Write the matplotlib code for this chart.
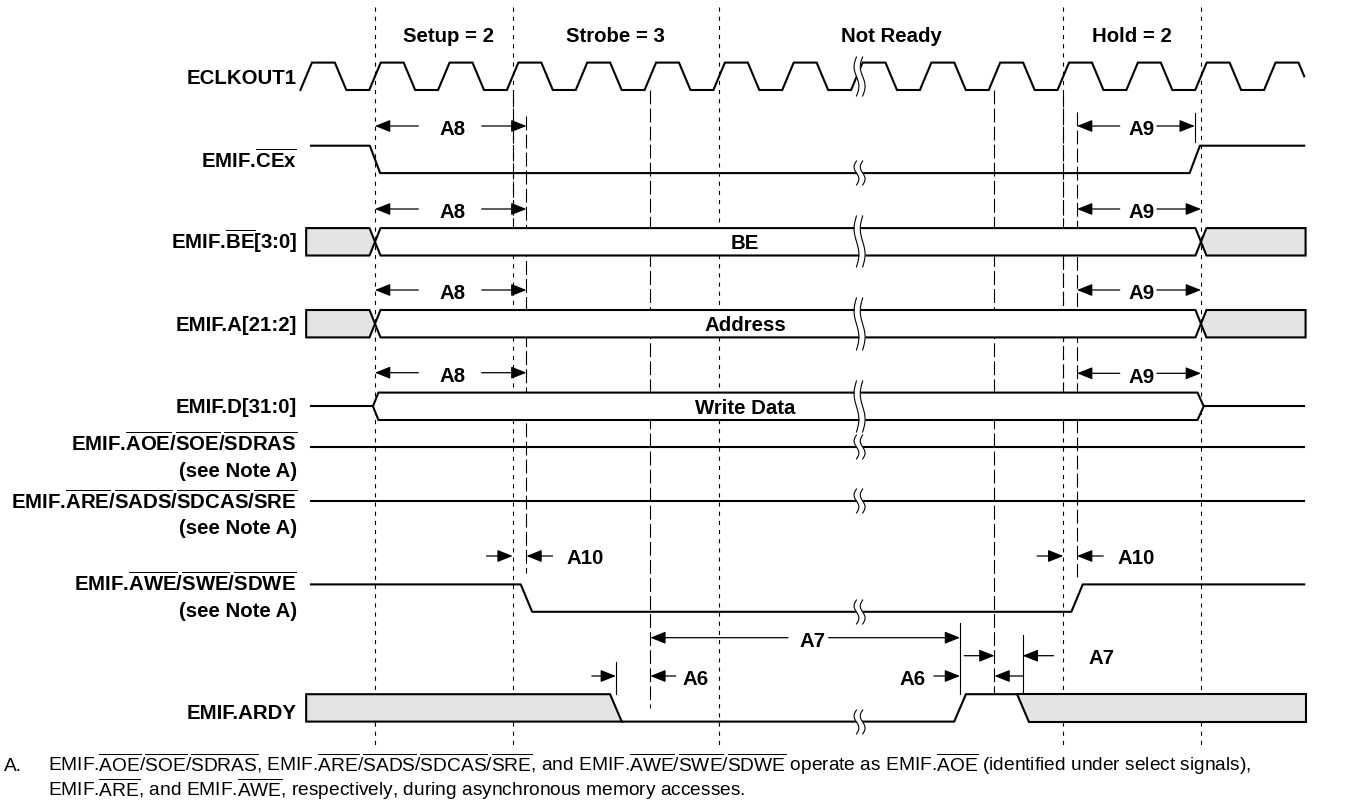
import numpy as np
import matplotlib.pyplot as plt

plt.rcParams['font.family'] = ['Liberation Sans', 'DejaVu Sans']
plt.rcParams['mathtext.fontset'] = 'custom'
plt.rcParams['mathtext.rm'] = 'Liberation Sans'
plt.rcParams['mathtext.bf'] = 'Liberation Sans:bold'
plt.rcParams['lines.scale_dashes'] = False

# ---- timing data, in ECLKOUT1 cycles (0 = start of setup) ----
phase_names = ['Setup = 2', 'Strobe = 3', 'Not Ready', 'Hold = 2']
phase_edges = [0, 2, 5, 10, 12]
clk_cycles = np.arange(-1, 14)
clk_stop = 13.5
t_break = 7.04

ce_edges = [0.0, 11.91]          # CEx low / high
bus_edges = [0.0, 12.0]          # BE, A, D valid
awe_edges = [2.2, 10.2]          # AWE low / high
ardy_edges = [3.5, 8.5, 9.41]    # ARDY low, high, released
bus_text = ['BE', 'Address', 'Write Data']
bus_text_t = 5.38

signal_names = ['ECLKOUT1',
                r'EMIF.$\mathbf{\overline{CEx}}$',
                r'EMIF.$\mathbf{\overline{BE}}$[3:0]',
                'EMIF.A[21:2]',
                'EMIF.D[31:0]',
                r'EMIF.$\mathbf{\overline{AOE}}$/$\mathbf{\overline{SOE}}$/$\mathbf{\overline{SDRAS}}$',
                r'EMIF.$\mathbf{\overline{ARE}}$/$\mathbf{\overline{SADS}}$/$\mathbf{\overline{SDCAS}}$/$\mathbf{\overline{SRE}}$',
                r'EMIF.$\mathbf{\overline{AWE}}$/$\mathbf{\overline{SWE}}$/$\mathbf{\overline{SDWE}}$',
                'EMIF.ARDY']
note_text = '(see Note A)'

# timing parameters (name, from, to)
a8 = ('A8', 0.0, 2.2)
a9_ce = ('A9', 10.2, 11.91)
a9 = ('A9', 10.2, 12.0)
a10 = [('A10', 2.0, 2.2), ('A10', 10.0, 10.2)]
a7 = [('A7', 4.0, 8.5), ('A7', 9.0, 9.41)]
a6 = [('A6', 3.5, 4.0), ('A6', 8.5, 9.0)]

footnote = [r'EMIF.$\overline{\mathrm{AOE}}$/$\overline{\mathrm{SOE}}$/$\overline{\mathrm{SDRAS}}$, '
            r'EMIF.$\overline{\mathrm{ARE}}$/$\overline{\mathrm{SADS}}$/$\overline{\mathrm{SDCAS}}$/$\overline{\mathrm{SRE}}$, '
            r'and EMIF.$\overline{\mathrm{AWE}}$/$\overline{\mathrm{SWE}}$/$\overline{\mathrm{SDWE}}$ operate as '
            r'EMIF.$\overline{\mathrm{AOE}}$ (identified under select signals),',
            r'EMIF.$\overline{\mathrm{ARE}}$, and EMIF.$\overline{\mathrm{AWE}}$, respectively, during asynchronous memory accesses.']

# ---- layout (pixels) ----
W, H = 1348, 808
X0, P = 375.0, 68.83            # pixel of cycle 0, pixels per cycle
row_y = [76.3, 159.4, 241.8, 323.7, 406.3, 447.3, 501.0, 598.1, 707.9]
label_y = [76.3, 160, 242, 324, 406, 443, 501, 583.5, 711.5]
note_y = [469.5, 527, 609.5]
HH = 13.7                       # half height of a signal
LW = 1.5
FS = 14.7
GRAY = '#e3e3e3'


def px(x):
    return (x - X0) / P


fig = plt.figure(figsize=(W / 100, H / 100), dpi=100)
ax = fig.add_axes([0, 0, 1, 1])
ax.set_xlim(px(0), px(W))
ax.set_ylim(H, 0)
ax.axis('off')


def label(t, y, s, ha='right', size=FS, weight='bold'):
    ax.text(t, y + 0.36 * size / 0.72, s, ha=ha, va='baseline', fontsize=size,
            fontweight=weight, color='black')


def arrow(t_tail, t_tip, y):
    ax.annotate('', xy=(t_tip, y), xytext=(t_tail, y),
                arrowprops=dict(arrowstyle='-|>,head_length=0.55,head_width=0.22',
                                mutation_scale=17, lw=0.9, color='black',
                                fc='black', shrinkA=0, shrinkB=0))


def inside(dim, y, t_text, gl, gr):
    name, t0, t1 = dim
    arrow(t_text - gl, t0, y)
    arrow(t_text + gr, t1, y)
    label(t_text, y + 2, name, ha='center')


def vline(t, y0, y1, kind):
    dash = {'short': (3, 3.6), 'long': (10, 3)}.get(kind)
    if dash is None:
        ax.plot([t, t], [y0, y1], color='black', lw=0.8, zorder=1)
    else:
        ax.plot([t, t], [y0, y1], color='black', lw=0.8, dashes=dash, zorder=1)


def squiggle(y0, y1):
    yy = np.linspace(y0, y1, 60)
    wob = 0.035 * np.sin(2 * np.pi * (yy - y0) / (y1 - y0))
    left = t_break - 0.045 - wob
    right = t_break + 0.045 - wob
    ax.fill_betweenx(yy, left, right, color='white', zorder=5, lw=0)
    ax.plot(left, yy, color='black', lw=0.8, zorder=6)
    ax.plot(right, yy, color='black', lw=0.8, zorder=6)


def poly(pts, fc):
    ax.add_patch(plt.Polygon(pts, closed=True, fc=fc, ec='black', lw=LW,
                             joinstyle='miter', zorder=3))


# ---- vertical reference lines ----
for t in phase_edges:
    vline(t, 7, 745, 'short')
for t, y0, y1 in [(2.0, 93, 227), (2.2, 116, 573), (4.0, 90, 708),
                  (9.0, 90, 693), (10.0, 93, 430), (10.2, 112, 577)]:
    vline(t, y0, y1, 'long')
for t, y0, y1 in [(ce_edges[1], 113, 142), (ardy_edges[0], 662, 694),
                  (ardy_edges[1], 623, 694), (ardy_edges[2], 635, 694)]:
    vline(t, y0, y1, 'solid')

# ---- phase headers ----
for name, a, b in zip(phase_names, phase_edges[:-1], phase_edges[1:]):
    label((a + b) / 2 + (0.07 if a == 0 else 0), 35, name, ha='center')

# ---- clock ----
r = 0.167
yc = row_y[0]
ct, cy = [], []
for k in clk_cycles:
    ct += [k - r / 2, k + r / 2, k + 0.5 - r / 2, k + 0.5 + r / 2]
    cy += [yc + HH, yc - HH, yc - HH, yc + HH]
ct, cy = np.array(ct), np.array(cy)
keep = ct <= clk_stop - r / 2 + 1e-9
ct = np.append(ct[keep], clk_stop)
cy = np.append(cy[keep], yc)
ax.plot(ct, cy, color='black', lw=LW, zorder=2, solid_joinstyle='miter')

# ---- CEx ----
w = 0.075
y = row_y[1]
ax.plot([-0.93, ce_edges[0] - w, ce_edges[0] + w, ce_edges[1] - w, ce_edges[1] + w, clk_stop],
        [y - HH, y - HH, y + HH, y + HH, y - HH, y - HH], color='black', lw=LW, zorder=2)

# ---- BE and A buses ----
w = 0.08
t0, t1 = bus_edges
for i in (2, 3):
    y = row_y[i]
    top, bot = y - HH, y + HH
    poly([(-1.0, top), (t0 - w, top), (t0, y), (t0 - w, bot), (-1.0, bot)], GRAY)
    poly([(t0, y), (t0 + w, top), (t1 - w, top), (t1, y), (t1 - w, bot), (t0 + w, bot)], 'white')
    poly([(t1, y), (t1 + w, top), (13.52, top), (13.52, bot), (t1 + w, bot)], GRAY)

# ---- D bus ----
y = row_y[4]
top, bot = y - HH, y + HH
ax.plot([-0.93, t0 - 0.03], [y, y], color='black', lw=LW, zorder=2)
poly([(t0 - 0.03, y), (t0 + 0.05, top), (t1 - 0.05, top), (t1 + 0.04, y),
      (t1 - 0.05, bot), (t0 + 0.05, bot)], 'white')
ax.plot([t1 + 0.04, clk_stop], [y, y], color='black', lw=LW, zorder=2)

for i, s in zip((2, 3, 4), bus_text):
    label(bus_text_t, row_y[i], s, ha='center')

# ---- AOE, ARE (inactive) ----
for i in (5, 6):
    ax.plot([-0.93, clk_stop], [row_y[i], row_y[i]], color='black', lw=LW, zorder=2)

# ---- AWE ----
w = 0.083
y = row_y[7]
ax.plot([-0.93, awe_edges[0] - w, awe_edges[0] + w, awe_edges[1] - w, awe_edges[1] + w, clk_stop],
        [y - HH, y - HH, y + HH, y + HH, y - HH, y - HH], color='black', lw=LW, zorder=2)

# ---- ARDY ----
w = 0.085
y = row_y[8]
top, bot = y - HH, y + HH
f0, rr, f1 = ardy_edges
poly([(-1.0, top), (f0 - w, top), (f0 + w, bot), (-1.0, bot)], GRAY)
ax.plot([f0 + w, rr - w, rr + w, f1 - w], [bot, bot, top, top], color='black', lw=LW, zorder=2)
poly([(f1 - w, top), (13.52, top), (13.52, bot), (f1 + w, bot)], GRAY)

# ---- time breaks ----
for y0, y1 in [(57, 96), (161, 185), (216, 267), (298, 350), (381, 432),
               (435, 459), (489, 513), (600, 624), (710, 734)]:
    squiggle(y0, y1)

# ---- timing parameters ----
for y in (126, 209, 290, 372.7):
    inside(a8, y, 1.13, 0.5, 0.42)
inside(a9_ce, 126, 11.13, 0.31, 0.23)
for y in (209, 290, 373.3):
    inside(a9, y, 11.13, 0.31, 0.23)

for name, ta, tb in a10:
    arrow(ta - 0.38, ta, 556)
    arrow(tb + 0.38, tb, 556)
    label(tb + 0.58, 557, name, ha='left')

inside(a7[0], 637.7, 6.35, 0.35, 0.24)
name, ta, tb = a7[1]
arrow(ta - 0.44, ta, 655.7)
arrow(tb + 0.45, tb, 655.7)
label(tb + 0.95, 657, name, ha='left')

name, ta, tb = a6[0]
arrow(ta - 0.35, ta, 676)
arrow(tb + 0.37, tb, 676)
label(tb + 0.47, 678, name, ha='left')
name, ta, tb = a6[1]
arrow(ta - 0.38, ta, 676)
arrow(ardy_edges[2], tb, 676)
label(ta - 0.5, 678, name, ha='right')

# ---- signal names ----
for s, y in zip(signal_names, label_y):
    label(px(297), y, s)
for y in note_y:
    label(px(297), y, note_text)

# ---- footnote ----
label(px(4), 764, 'A.', ha='left', size=13.8, weight='normal')
for s, y in zip(footnote, (764, 789)):
    label(px(48), y, s, ha='left', size=13.8, weight='normal')

fig.savefig('out.png', dpi=100)
